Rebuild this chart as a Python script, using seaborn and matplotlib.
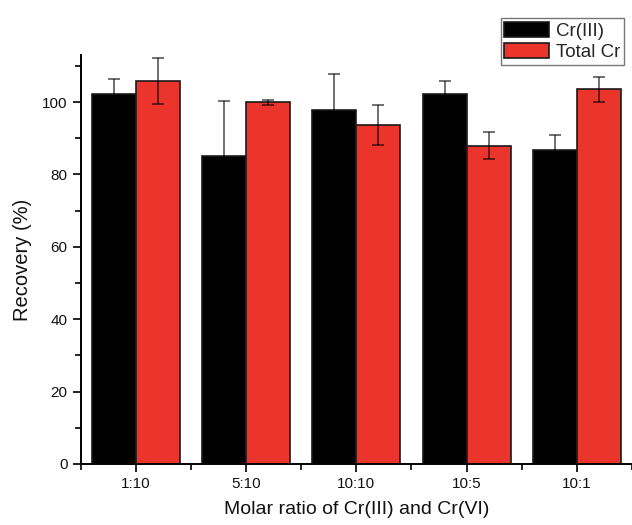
import matplotlib
matplotlib.use("Agg")
import matplotlib.pyplot as plt
import seaborn as sns
import pandas as pd
import numpy as np
from matplotlib.ticker import MultipleLocator, FixedLocator

ratios = ["1:10", "5:10", "10:10", "10:5", "10:1"]
series_names = ["Cr(III)", "Total Cr"]
cr3_values = [102.1, 85.0, 97.8, 102.2, 86.7]
cr3_errors = [4.3, 15.3, 9.9, 3.6, 4.1]
total_values = [105.9, 99.9, 93.7, 88.0, 103.5]
total_errors = [6.4, 0.8, 5.5, 3.7, 3.4]
colors = ["#000000", "#EA342C"]

sns.set_theme(style="ticks")
plt.rcParams["font.family"] = ["Liberation Sans", "DejaVu Sans"]

df = pd.DataFrame({
    "ratio": ratios * 2,
    "series": [series_names[0]] * 5 + [series_names[1]] * 5,
    "value": cr3_values + total_values,
})

fig = plt.figure(figsize=(6.32, 5.25), dpi=100)
ax = fig.add_axes([0.1277, 0.1162, 1.0 - 0.1277, 0.8952 - 0.1162])

sns.barplot(data=df, x="ratio", y="value", hue="series", order=ratios,
            hue_order=series_names, palette=colors, width=0.8,
            edgecolor="#1a1a1a", linewidth=1.2, errorbar=None, ax=ax,
            saturation=1)

for cont, errs in zip(ax.containers, [cr3_errors, total_errors]):
    xs = [p.get_x() + p.get_width() / 2 for p in cont.patches]
    hs = [p.get_height() for p in cont.patches]
    ax.errorbar(xs, hs, yerr=errs, fmt="none", ecolor="black", alpha=0.65,
                elinewidth=1.2, capsize=4, capthick=1.2, zorder=5)

ax.set_xlim(-0.5, 4.5)
ax.set_ylim(0, 113)
ax.yaxis.set_major_locator(MultipleLocator(20))
ax.yaxis.set_minor_locator(MultipleLocator(10))
ax.xaxis.set_minor_locator(FixedLocator(np.arange(-0.5, 5.0, 1.0)))
ax.tick_params(axis="both", which="major", direction="out", length=6,
               width=1.2, labelsize=11, color="black", labelcolor="#111111")
ax.tick_params(axis="both", which="minor", direction="out", length=4,
               width=1.2, color="black")
for s in ["top", "right"]:
    ax.spines[s].set_visible(False)
for s in ["left", "bottom"]:
    ax.spines[s].set_linewidth(1.4)
    ax.spines[s].set_color("black")

ax.set_xlabel("Molar ratio of Cr(III) and Cr(VI)", fontsize=14, labelpad=7, color="#111111")
ax.set_ylabel("Recovery (%)", fontsize=14.5, labelpad=7, color="#111111")

handles, labels = ax.get_legend_handles_labels()
leg = ax.legend(handles, labels, loc="upper right",
                bbox_to_anchor=(624 / 632, 1 - 18 / 525),
                bbox_transform=fig.transFigure, fontsize=13.5,
                frameon=True, fancybox=False, edgecolor="#555555",
                handlelength=2.4, handleheight=0.9, handletextpad=0.35,
                labelspacing=0.15, borderpad=0.2, borderaxespad=0)
leg.get_frame().set_linewidth(1.0)

fig.savefig("out.png", dpi=100)
